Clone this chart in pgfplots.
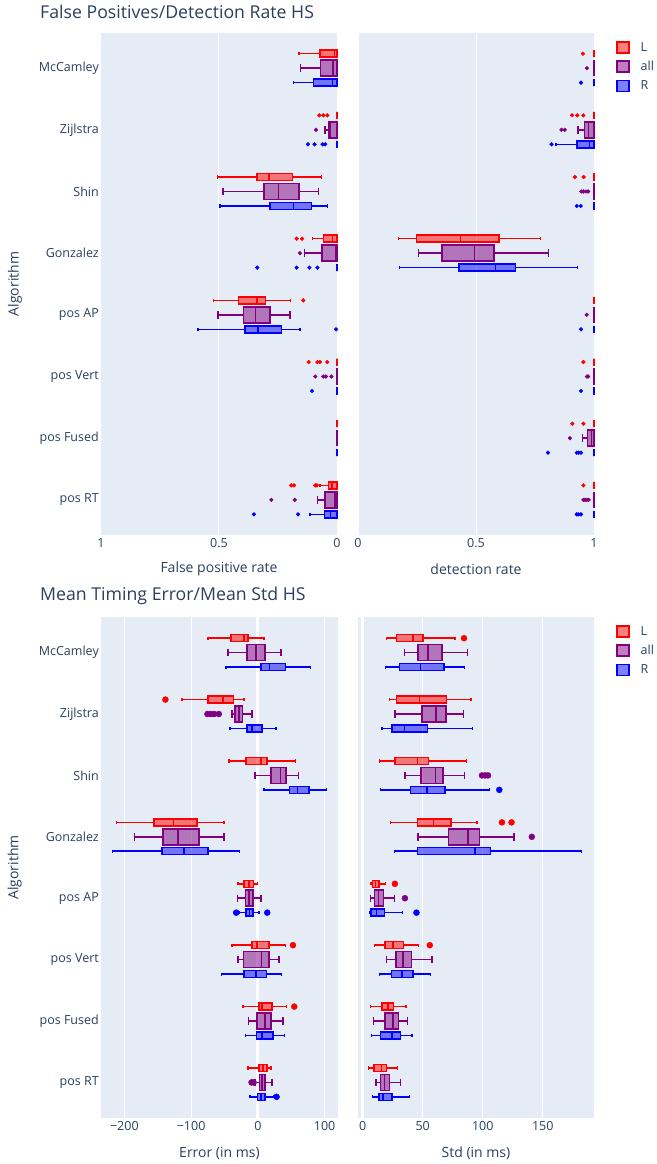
\documentclass[border=0pt]{standalone}
\usepackage{fontspec}
\setmainfont{Open Sans}
\usepackage{pgfplots}
\pgfplotsset{compat=1.18}
\usepgfplotslibrary{statistics}
\definecolor{bgc}{HTML}{E5ECF6}
\definecolor{txt}{HTML}{2A3F5F}
\definecolor{cL}{RGB}{255,0,0}
\definecolor{cA}{RGB}{128,0,128}
\definecolor{cR}{RGB}{0,0,255}
\pgfplotsset{
  panel/.style={
    scale only axis,
    axis background/.style={fill=bgc},
    axis line style={draw=none},
    major tick length=0pt,
    xmajorgrids, ymajorgrids=false,
    major grid style={white, line width=1pt},
    tick label style={font=\fontsize{12.5}{14}\selectfont, text=txt},
    label style={font=\fontsize{14}{16}\selectfont, text=txt},
    y dir=reverse,
    clip=false,
  },
  leftpanel/.style={panel, ytick={0,...,7},
    yticklabels={McCamley, Zijlstra, Shin, Gonzalez, pos AP, pos Vert, pos Fused, pos RT},
    yticklabel style={anchor=east, inner xsep=2pt},
    ylabel={Algorithm},
    ylabel style={at={(axis description cs:-0.364,0.5)}, anchor=center}},
  rightpanel/.style={panel, ytick=\empty,
    legend style={at={(axis description cs:1,1)}, anchor=north west, xshift=22pt, yshift=-8pt,
      draw=none, fill=none, inner sep=0pt, row sep=6.5pt, column sep=10pt,
      font=\fontsize{12.5}{14}\selectfont, text=txt, nodes={inner sep=1pt}},
    legend cell align=left},
  bxbase/.style={boxplot/draw direction=x, line width=1.5pt, solid, forget plot, mark=none},
  bL/.style={bxbase, draw=cL, boxplot/box extend=0.114, boxplot/whisker extend=0.05,
    boxplot/every box/.style={draw=cL, fill=cL, fill opacity=0.5}},
  bA/.style={bxbase, draw=cA, boxplot/box extend=0.26, boxplot/whisker extend=0.12,
    boxplot/every box/.style={draw=cA, fill=cA, fill opacity=0.5}},
  bR/.style={bxbase, draw=cR, boxplot/box extend=0.114, boxplot/whisker extend=0.05,
    boxplot/every box/.style={draw=cR, fill=cR, fill opacity=0.5}},
  oL/.style={only marks, mark=*, mark size=1.9pt, color=cL, forget plot, mark options={draw=none, fill=cL}},
  oA/.style={only marks, mark=*, mark size=1.9pt, color=cA, forget plot, mark options={draw=none, fill=cA}},
  oR/.style={only marks, mark=*, mark size=1.9pt, color=cR, forget plot, mark options={draw=none, fill=cR}},
  big/.style={mark size=3pt},
  lbox/.style={legend image code/.code={\draw[##1, line width=1.5pt, fill opacity=0.5] (0pt,-5.5pt) rectangle (12pt,5.5pt);}},
}
% box: style, position, lower whisker, lower quartile, median, upper quartile, upper whisker
\newcommand{\bx}[7]{\addplot[#1, boxplot prepared={draw position=#2, lower whisker=#3, lower quartile=#4, median=#5, upper quartile=#6, upper whisker=#7}] coordinates {};}
\newcommand{\legs}{%
  \addlegendimage{lbox, draw=cL, fill=cL}\addlegendentry{L}
  \addlegendimage{lbox, draw=cA, fill=cA}\addlegendentry{all}
  \addlegendimage{lbox, draw=cR, fill=cR}\addlegendentry{R}}
\begin{document}
\begin{tikzpicture}
\path[use as bounding box] (0pt,0pt) rectangle (656pt,-1164pt);
\node[anchor=west, font=\fontsize{17.7}{20}\selectfont, text=txt, inner sep=0pt] at (40pt,-12pt) {False Positives/Detection Rate HS};
\node[anchor=west, font=\fontsize{17.7}{20}\selectfont, text=txt, inner sep=0pt] at (40pt,-596pt) {Mean Timing Error/Mean Std HS};

% ---------------- top left: false positive rate
\begin{axis}[leftpanel, at={(101pt,-535pt)}, anchor=south west, width=236pt, height=502pt,
  x dir=reverse, xmin=0, xmax=1, ymin=-0.57, ymax=7.57,
  xtick={0,0.5,1}, xticklabels={0,0.5,1},
  xlabel={False positive rate}, xlabel style={at={(axis description cs:0.5,-0.068)}, anchor=center}]
% McCamley
\bx{bL}{-0.235}{0}{0}{0.01}{0.072}{0.16}
\bx{bA}{0}{0}{0}{0.018}{0.069}{0.154}
\bx{bR}{0.235}{0}{0}{0.02}{0.10}{0.185}
% Zijlstra
\bx{bL}{0.765}{0}{0}{0}{0}{0}
\bx{bA}{1}{0}{0}{0.03}{0.035}{0.05}
\bx{bR}{1.235}{0}{0}{0}{0}{0}
\addplot[oL] coordinates {(0.075,0.765) (0.058,0.765) (0.041,0.765)};
\addplot[oA] coordinates {(0.089,1)};
\addplot[oR] coordinates {(0.123,1.235) (0.095,1.235) (0.061,1.235) (0.05,1.235)};
% Shin
\bx{bL}{1.765}{0.066}{0.188}{0.289}{0.338}{0.507}
\bx{bA}{2}{0.078}{0.162}{0.247}{0.309}{0.484}
\bx{bR}{2.235}{0.041}{0.109}{0.185}{0.284}{0.496}
% Gonzalez
\bx{bL}{2.765}{0}{0}{0.02}{0.058}{0.103}
\bx{bA}{3}{0}{0}{0.005}{0.064}{0.137}
\bx{bR}{3.235}{0}{0}{0}{0}{0}
\addplot[oL] coordinates {(0.171,2.765) (0.148,2.765)};
\addplot[oA] coordinates {(0.157,3)};
\addplot[oR] coordinates {(0.338,3.235) (0.171,3.235) (0.117,3.235) (0.083,3.235)};
% pos AP
\bx{bL}{3.765}{0.196}{0.304}{0.338}{0.417}{0.524}
\bx{bA}{4}{0.199}{0.284}{0.346}{0.397}{0.504}
\bx{bR}{4.235}{0.157}{0.236}{0.335}{0.389}{0.589}
\addplot[oL] coordinates {(0.143,3.765)};
\addplot[oR] coordinates {(0.004,4.235)};
% pos Vert
\bx{bL}{4.765}{0}{0}{0}{0}{0}
\bx{bA}{5}{0}{0}{0}{0}{0}
\bx{bR}{5.235}{0}{0}{0}{0}{0}
\addplot[oL] coordinates {(0.12,4.765) (0.083,4.765) (0.072,4.765) (0.041,4.765)};
\addplot[oA] coordinates {(0.092,5) (0.058,5) (0.047,5) (0.024,5)};
\addplot[oR] coordinates {(0.106,5.235)};
% pos Fused
\bx{bL}{5.765}{0}{0}{0}{0}{0}
\bx{bA}{6}{0}{0}{0}{0}{0}
\bx{bR}{6.235}{0}{0}{0}{0}{0}
% pos RT
\bx{bL}{6.765}{0}{0}{0.021}{0.035}{0.072}
\bx{bA}{7}{0}{0}{0.008}{0.05}{0.083}
\bx{bR}{7.235}{0}{0}{0.027}{0.052}{0.114}
\addplot[oL] coordinates {(0.194,6.765) (0.182,6.765) (0.092,6.765) (0.085,6.765)};
\addplot[oA] coordinates {(0.278,7) (0.179,7)};
\addplot[oR] coordinates {(0.352,7.235) (0.165,7.235)};
\end{axis}

% ---------------- top right: detection rate
\begin{axis}[rightpanel, at={(358pt,-535pt)}, anchor=south west, width=236pt, height=502pt,
  xmin=0, xmax=1, ymin=-0.57, ymax=7.57,
  xtick={0,0.5,1}, xticklabels={0,0.5,1},
  xlabel={detection rate}, xlabel style={at={(axis description cs:0.5,-0.068)}, anchor=center}]
\legs
% McCamley
\bx{bL}{-0.235}{1}{1}{1}{1}{1}
\bx{bA}{0}{1}{1}{1}{1}{1}
\bx{bR}{0.235}{1}{1}{1}{1}{1}
\addplot[oL] coordinates {(0.953,-0.235)};
\addplot[oA] coordinates {(0.970,0)};
\addplot[oR] coordinates {(0.945,0.235)};
% Zijlstra
\bx{bL}{0.765}{1}{1}{1}{1}{1}
\bx{bA}{1}{0.932}{0.959}{0.977}{1}{1}
\bx{bR}{1.235}{0.838}{0.927}{0.98}{1}{1}
\addplot[oL] coordinates {(0.907,0.765) (0.929,0.765) (0.955,0.765)};
\addplot[oA] coordinates {(0.862,1) (0.876,1)};
\addplot[oR] coordinates {(0.82,1.235)};
% Shin
\bx{bL}{1.765}{1}{1}{1}{1}{1}
\bx{bA}{2}{1}{1}{1}{1}{1}
\bx{bR}{2.235}{1}{1}{1}{1}{1}
\addplot[oL] coordinates {(0.919,1.765) (0.956,1.765)};
\addplot[oA] coordinates {(0.946,2) (0.955,2) (0.966,2) (0.975,2)};
\addplot[oR] coordinates {(0.927,2.235) (0.944,2.235)};
% Gonzalez
\bx{bL}{2.765}{0.171}{0.247}{0.434}{0.597}{0.773}
\bx{bA}{3}{0.256}{0.355}{0.494}{0.576}{0.807}
\bx{bR}{3.235}{0.175}{0.428}{0.583}{0.667}{0.929}
% pos AP
\bx{bL}{3.765}{1}{1}{1}{1}{1}
\bx{bA}{4}{1}{1}{1}{1}{1}
\bx{bR}{4.235}{1}{1}{1}{1}{1}
\addplot[oA] coordinates {(0.969,4)};
\addplot[oR] coordinates {(0.945,4.235)};
% pos Vert
\bx{bL}{4.765}{1}{1}{1}{1}{1}
\bx{bA}{5}{1}{1}{1}{1}{1}
\bx{bR}{5.235}{1}{1}{1}{1}{1}
\addplot[oL] coordinates {(0.955,4.765)};
\addplot[oA] coordinates {(0.97,5) (0.975,5)};
\addplot[oR] coordinates {(0.945,5.235)};
% pos Fused
\bx{bL}{5.765}{1}{1}{1}{1}{1}
\bx{bA}{6}{0.951}{0.973}{0.99}{1}{1}
\bx{bR}{6.235}{1}{1}{1}{1}{1}
\addplot[oL] coordinates {(0.908,5.765) (0.955,5.765)};
\addplot[oA] coordinates {(0.898,6)};
\addplot[oR] coordinates {(0.805,6.235) (0.927,6.235) (0.935,6.235) (0.945,6.235)};
% pos RT
\bx{bL}{6.765}{1}{1}{1}{1}{1}
\bx{bA}{7}{1}{1}{1}{1}{1}
\bx{bR}{7.235}{1}{1}{1}{1}{1}
\addplot[oL] coordinates {(0.955,6.765)};
\addplot[oA] coordinates {(0.955,7) (0.962,7) (0.97,7) (0.977,7)};
\addplot[oR] coordinates {(0.927,7.235) (0.935,7.235) (0.945,7.235)};
\end{axis}

% ---------------- bottom left: error
\begin{axis}[leftpanel, at={(101pt,-1118pt)}, anchor=south west, width=237pt, height=501pt,
  xmin=-235, xmax=120, ymin=-0.58, ymax=7.58,
  xtick={-200,-100,100}, xticklabels={−200,−100,100},
  extra x ticks={0}, extra x tick labels={0},
  extra x tick style={major grid style={white, line width=3pt}},
  xlabel={Error (in ms)}, xlabel style={at={(axis description cs:0.5,-0.07)}, anchor=center},
  oL/.append style={big}, oA/.append style={big}, oR/.append style={big}]
% McCamley
\bx{bL}{-0.235}{-74.5}{-40}{-20.5}{-14.5}{9}
\bx{bA}{0}{-44.5}{-16}{-3}{11}{34.5}
\bx{bR}{0.235}{-47.5}{4.5}{17.5}{41.5}{78.5}
% Zijlstra
\bx{bL}{0.765}{-113.5}{-74.5}{-52.5}{-36.5}{-20.5}
\bx{bA}{1}{-38.5}{-34}{-28.5}{-23}{-8.5}
\bx{bR}{1.235}{-41.5}{-16}{-9}{6.5}{27}
\addplot[oL] coordinates {(-138.5,0.765)};
\addplot[oA] coordinates {(-75.5,1) (-70.5,1) (-65.5,1) (-58.5,1)};
% Shin
\bx{bL}{1.765}{-43}{-18}{4.5}{14}{56.5}
\bx{bA}{2}{-4}{20}{33.5}{42}{61}
\bx{bR}{2.235}{9.5}{47}{59.5}{76.5}{103}
% Gonzalez
\bx{bL}{2.765}{-211.5}{-155.5}{-126.5}{-91.5}{-50.5}
\bx{bA}{3}{-185}{-142.5}{-120}{-88.5}{-50.5}
\bx{bR}{3.235}{-218}{-143.5}{-111}{-74.5}{-27.5}
% pos AP
\bx{bL}{3.765}{-29.5}{-20.5}{-13}{-6.5}{-0.5}
\bx{bA}{4}{-30.5}{-18.5}{-13.5}{-7}{5}
\bx{bR}{4.235}{-28.5}{-18}{-12.5}{-7.5}{1.5}
\addplot[oR] coordinates {(-32.5,4.235) (14,4.235)};
% pos Vert
\bx{bL}{4.765}{-38.5}{-8.5}{-1.5}{17}{41.5}
\bx{bA}{5}{-29.5}{-21.5}{5.5}{16.5}{31.5}
\bx{bR}{5.235}{-54.5}{-21}{-2.5}{13}{35}
\addplot[oL] coordinates {(52.5,4.765)};
% pos Fused
\bx{bL}{5.765}{-22}{2}{6.5}{21}{42.5}
\bx{bA}{6}{-14}{-1}{10.5}{20}{37.5}
\bx{bR}{6.235}{-18.5}{-2}{6.5}{22.5}{39.5}
\addplot[oL] coordinates {(54.5,5.765)};
% pos RT
\bx{bL}{6.765}{-14.5}{1.5}{7.5}{13.5}{19.5}
\bx{bA}{7}{-4}{2.5}{6.5}{11}{21}
\bx{bR}{7.235}{-11.5}{-0.5}{4.5}{11}{24.5}
\addplot[oA] coordinates {(-9.5,7) (-6.5,7)};
\addplot[oR] coordinates {(28,7.235)};
\end{axis}

% ---------------- bottom right: std
\begin{axis}[rightpanel, at={(358pt,-1118pt)}, anchor=south west, width=236pt, height=501pt,
  xmin=-3.9, xmax=192.7, ymin=-0.58, ymax=7.58,
  xtick={50,100,150}, xticklabels={50,100,150},
  extra x ticks={0}, extra x tick labels={0},
  extra x tick style={major grid style={white, line width=3pt}},
  xlabel={Std (in ms)}, xlabel style={at={(axis description cs:0.5,-0.07)}, anchor=center},
  oL/.append style={big}, oA/.append style={big}, oR/.append style={big}]
\legs
% McCamley
\bx{bL}{-0.235}{19.7}{28}{41.8}{50.4}{76.7}
\bx{bA}{0}{34.9}{46}{54.5}{65.9}{87.2}
\bx{bR}{0.235}{19.1}{30.7}{48.2}{67.8}{85}
\addplot[oL] coordinates {(84.4,-0.235)};
% Zijlstra
\bx{bL}{0.765}{22.4}{28}{47.3}{69.8}{90.2}
\bx{bA}{1}{26.8}{49.5}{60.9}{69.2}{84.1}
\bx{bR}{1.235}{16.1}{24.4}{34.9}{54}{91.6}
% Shin
\bx{bL}{1.765}{13.8}{27.1}{45.7}{54.8}{86.6}
\bx{bA}{2}{35.4}{48.7}{60.6}{66.7}{85}
\bx{bR}{2.235}{14.7}{39.9}{53.4}{68.6}{105.5}
\addplot[oA] coordinates {(99.4,2) (102,2) (104.4,2)};
\addplot[oR] coordinates {(113.8,2.235)};
% Gonzalez
\bx{bL}{2.765}{23.3}{45.7}{59}{73.4}{95.2}
\bx{bA}{3}{46}{71.4}{87.7}{97.4}{126.2}
\bx{bR}{3.235}{26.6}{45.7}{93.6}{106.6}{182.1}
\addplot[oL] coordinates {(116,2.765) (124,2.765)};
\addplot[oA] coordinates {(140.9,3)};
% pos AP
\bx{bL}{3.765}{6.9}{8}{10.8}{13.6}{18.8}
\bx{bA}{4}{6.6}{9.7}{13.3}{17.2}{26.3}
\bx{bR}{4.235}{5.5}{6.9}{11.3}{18}{33.2}
\addplot[oL] coordinates {(26.8,3.765)};
\addplot[oA] coordinates {(35.2,4)};
\addplot[oR] coordinates {(44.8,4.235)};
% pos Vert
\bx{bL}{4.765}{10}{18.5}{25.2}{34}{46.5}
\bx{bA}{5}{19.9}{27.7}{33.5}{40.7}{57.9}
\bx{bR}{5.235}{14.1}{24.1}{32.7}{42.1}{56.5}
\addplot[oL] coordinates {(55.9,4.765)};
% pos Fused
\bx{bL}{5.765}{6.4}{16.1}{21}{25.5}{36}
\bx{bA}{6}{8.9}{18.5}{25.2}{29.9}{37.4}
\bx{bR}{6.235}{7.5}{14.7}{24.4}{31.3}{41.2}
% pos RT
\bx{bL}{6.765}{5}{9.4}{15.8}{19.7}{29.1}
\bx{bA}{7}{11.1}{14.7}{18}{22.4}{31.3}
\bx{bR}{7.235}{8}{13.6}{16.9}{24.4}{38.8}
\end{axis}
\end{tikzpicture}
\end{document}
